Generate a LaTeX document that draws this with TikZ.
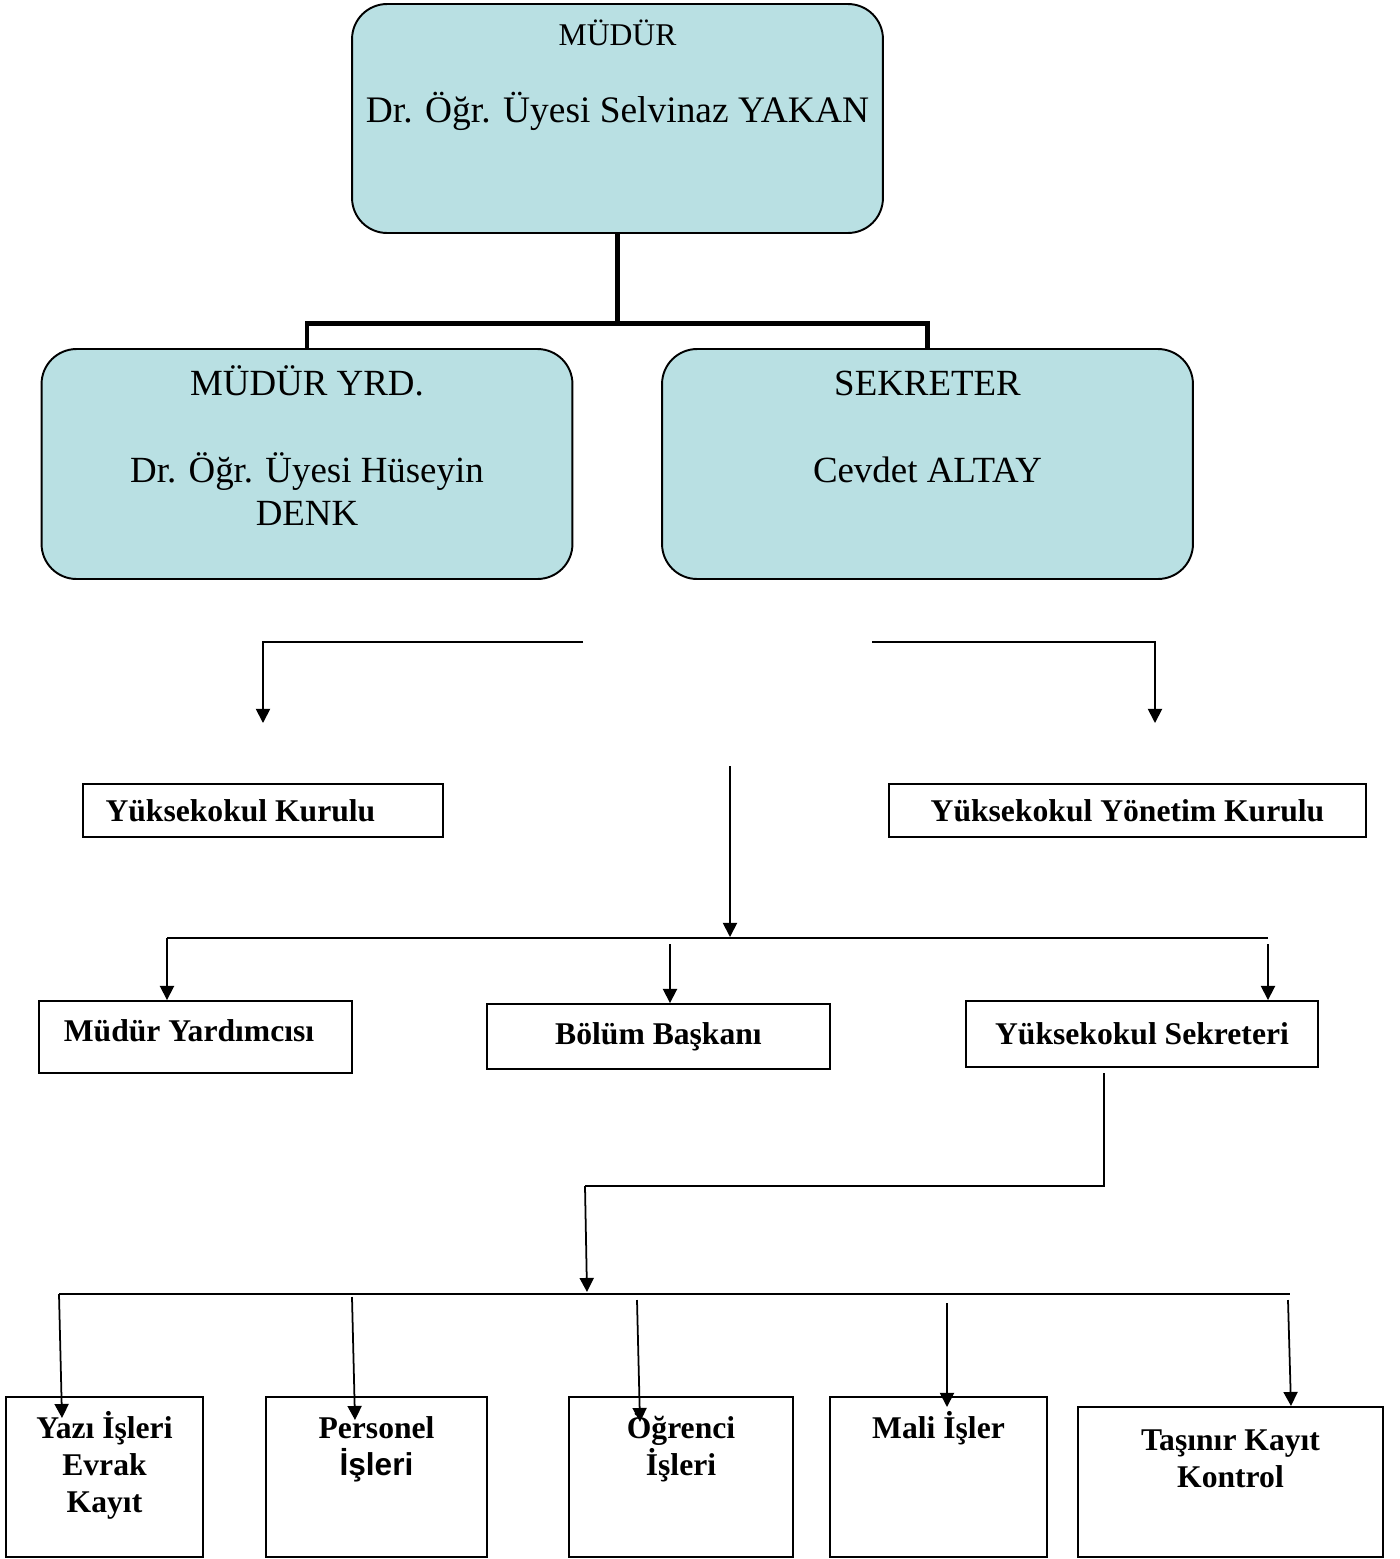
\documentclass[tikz,border=0pt]{standalone}
\usepackage{fontspec}
\setmainfont{Liberation Serif}
\newfontfamily\arialfont{Liberation Sans}
\usepackage{tikz}
\usetikzlibrary{arrows.meta,positioning}
\definecolor{boxblue}{HTML}{B9E0E3}

\begin{document}
\begin{tikzpicture}[
  x=0.02cm,y=-0.02cm,
  >={Triangle[width=8pt,length=8pt]},
  person/.style={draw,line width=1.1pt,rounded corners=0.7cm,fill=boxblue,
                 minimum width=10.62cm,minimum height=4.6cm},
  unit/.style={draw,line width=1.1pt,inner sep=0pt,
               font=\fontsize{18}{21}\selectfont\bfseries},
  txt/.style={anchor=base,inner sep=0pt,align=center},
  bigtxt/.style={txt,font=\fontsize{21}{24.4}\selectfont},
  smalltxt/.style={txt,font=\fontsize{18}{21}\selectfont\bfseries},
  wire/.style={line width=1pt},
  arr/.style={->,line width=1pt},
  trunk/.style={line width=2.8pt}
]
\useasboundingbox (0,0) rectangle (1400,1559);

% management
\node[person,minimum height=4.58cm] (mudur) at (617.5,118.5) {};
\node[person] (yrd) at (307,464) {};
\node[person] (sek) at (927.5,464) {};
\node[txt,font=\fontsize{18}{21}\selectfont] (mudur-t) at (617.5,45) {MÜDÜR};
\node[txt,font=\fontsize{21.3}{24.4}\selectfont] (mudur-n) at (617.5,122)
  {Dr. Öğr. Üyesi Selvinaz YAKAN};
\node[bigtxt] (yrd-t) at (307,395) {MÜDÜR YRD.};
\node[bigtxt] (yrd-n) at (307,525) {Dr. Öğr. Üyesi Hüseyin\\DENK};
\node[bigtxt] (sek-t) at (927.5,395) {SEKRETER};
\node[bigtxt] (sek-n) at (927.5,482) {Cevdet ALTAY};

\draw[trunk] (mudur.south) -- ++(0,90) -| (yrd.north);
\draw[trunk] (mudur.south) -- ++(0,90) -| (sek.north);

% boards
\node[unit,text width=6.3cm,align=flush left,inner xsep=0.45cm,minimum height=1.06cm]
  (ykurul) at (263,810.5) {Yüksekokul Kurulu};
\node[unit,minimum width=9.54cm,minimum height=1.06cm] (yyonetim) at (1127.5,810.5)
  {Yüksekokul Yönetim Kurulu};

\coordinate (kl-a) at (583,642);
\coordinate (kl-b) at (263,723);
\coordinate (ky-a) at (872,642);
\coordinate (ky-b) at (1155,723);
\draw[arr] (kl-a) -| (kl-b);
\draw[arr] (ky-a) -| (ky-b);

% second level
\node[unit,minimum width=6.26cm,minimum height=1.44cm] (myard) at (195.5,1037) {};
\node[smalltxt] (myard-t) at (189,1041) {Müdür Yardımcısı};
\node[unit,minimum width=6.86cm,minimum height=1.3cm] (bolum) at (658.5,1036.5)
  {Bölüm Başkanı};
\node[unit,minimum width=7.04cm,minimum height=1.32cm] (ysekr) at (1142,1034)
  {Yüksekokul Sekreteri};

\coordinate (mid-a) at (730,766);
\coordinate (mid-b) at (730,937);
\coordinate (bus1-l) at (167,938);
\coordinate (bus1-r) at (1268,938);
\coordinate (bb-a) at (670,944);
\coordinate (ys-a) at (1268,944);
\draw[arr] (mid-a) -- (mid-b);
\draw[wire] (bus1-r) -- (bus1-l);
\draw[arr] (bus1-l) -- (bus1-l |- myard.north);
\draw[arr] (bb-a) -- (bb-a |- bolum.north);
\draw[arr] (ys-a) -- (ys-a |- ysekr.north);

% units
\node[unit,minimum width=3.94cm,minimum height=3.2cm] (yazi) at (104.5,1477) {};
\node[unit,minimum width=4.42cm,minimum height=3.2cm] (pers) at (376.5,1477) {};
\node[unit,minimum width=4.48cm,minimum height=3.2cm] (ogr) at (681,1477) {};
\node[unit,minimum width=4.34cm,minimum height=3.2cm] (mali) at (938.5,1477) {};
\node[unit,minimum width=6.1cm,minimum height=3cm] (tasinir) at (1230.5,1482) {};
\node[smalltxt] (yazi-t) at (104.5,1512) {Yazı İşleri\\Evrak\\Kayıt};
\node[smalltxt] (pers-t) at (376.5,1475) {Personel\\{\arialfont\bfseries İşleri}};
\node[smalltxt] (ogr-t) at (681,1475) {Öğrenci\\İşleri};
\node[smalltxt] (mali-t) at (938.5,1438) {Mali İşler};
\node[smalltxt] (tasinir-t) at (1230.5,1487) {Taşınır Kayıt\\Kontrol};

\coordinate (ys-o) at (1104,1073);
\coordinate (bus2-c) at (585,1186);
\coordinate (bus2-d) at (587,1292);
\coordinate (bus2-l) at (59,1294);
\coordinate (bus2-r) at (1290,1294);
\draw[wire] (ys-o) |- (bus2-c);
\draw[arr] (bus2-c) -- (bus2-d);
\draw[wire] (bus2-l) -- (bus2-r);
\coordinate (u1) at (62,1418);
\coordinate (u2-a) at (352,1297);
\coordinate (u2) at (355,1420);
\coordinate (u3-a) at (637,1300);
\coordinate (u3) at (640,1422);
\coordinate (u4-a) at (947,1303);
\coordinate (u4) at (947,1407);
\coordinate (u5-a) at (1288,1300);
\coordinate (u5) at (1291,1406);
\draw[arr] (bus2-l) -- (u1);
\draw[arr] (u2-a) -- (u2);
\draw[arr] (u3-a) -- (u3);
\draw[arr] (u4-a) -- (u4);
\draw[arr] (u5-a) -- (u5);
\end{tikzpicture}
\end{document}
